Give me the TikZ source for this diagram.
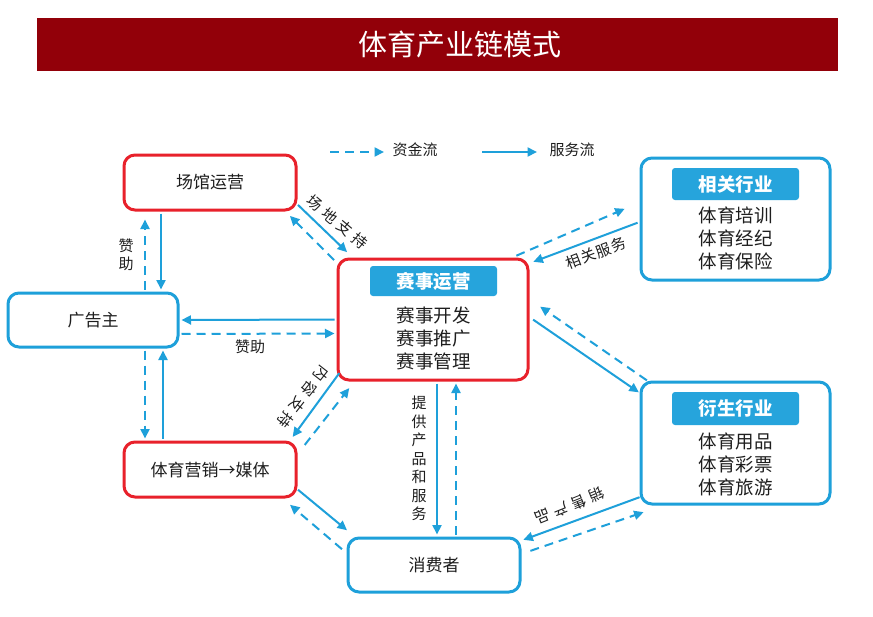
\documentclass[tikz,border=0pt]{standalone}
\usepackage{fontspec}
\setmainfont{Noto Sans CJK SC}
\usetikzlibrary{arrows.meta,calc}
\definecolor{bred}{HTML}{E8212B}
\definecolor{bblue}{HTML}{1EA0DA}
\definecolor{hblue}{HTML}{26A4DC}
\definecolor{tred}{HTML}{920009}
\definecolor{txt}{HTML}{1E1E1E}
\newcommand{\gp}{\hspace{4.5pt}}
\begin{document}
\begin{tikzpicture}[x=1pt,y=-1pt,
  box/.style={line width=3pt,rounded corners=11pt,fill=white,inner sep=0pt,text=txt,font=\fontsize{17}{17}\selectfont},
  redbox/.style={box,draw=bred},
  bluebox/.style={box,draw=bblue},
  header/.style={fill=hblue,rounded corners=3pt,inner sep=0pt,minimum width=127pt,text=white,font=\fontsize{18.5}{18.5}\selectfont\bfseries},
  items/.style={align=center,text=txt,inner sep=0pt,font=\fontsize{18.5}{23}\selectfont},
  flow/.style={draw=bblue,line width=2pt,-{Triangle[length=9.5pt,width=9pt]},shorten >=2pt,shorten <=2pt},
  money/.style={flow,dash pattern=on 9pt off 6pt},
  lbl/.style={text=txt,inner sep=0pt,font=\fontsize{15}{15}\selectfont},
  vlbl/.style={lbl,align=center,font=\fontsize{15}{18.5}\selectfont}
]
\useasboundingbox (0,0) rectangle (873,616);
\fill[white] (0,0) rectangle (873,616);

% title
\fill[tred] (37,18) rectangle (838,71);
\node[text=white,font=\fontsize{29}{29}\selectfont] (title) at (460,44) {体育产业链模式};

% legend
\coordinate (lg1a) at (330,152);
\coordinate (lg1b) at (384,152);
\coordinate (lg2a) at (482,152);
\coordinate (lg2b) at (537,152);
\draw[money,shorten <=0pt,shorten >=0pt] (lg1a) -- (lg1b);
\draw[flow,shorten <=0pt,shorten >=0pt] (lg2a) -- (lg2b);
\node[lbl] (lgt1) at (415,150) {资金流};
\node[lbl] (lgt2) at (572,150) {服务流};

% nodes
\node[redbox,minimum width=172pt,minimum height=55pt] (vn) at (210,182.5) {场馆运营};
\node[bluebox,minimum width=170pt,minimum height=54pt] (ad) at (93,320) {广告主};
\node[redbox,minimum width=172pt,minimum height=55pt] (md) at (210,469.5) {体育营销→媒体};
\node[bluebox,minimum width=172pt,minimum height=54pt] (cs) at (434,565) {消费者};
\node[redbox,minimum width=190pt,minimum height=121pt] (ev) at (433,319.5) {};
\node[bluebox,minimum width=189pt,minimum height=122pt] (rel) at (735.5,219) {};
\node[bluebox,minimum width=189pt,minimum height=122pt] (der) at (735.5,443) {};

\node[header,minimum height=30pt] (evh) at (433.5,281) {赛事运营};
\node[items] (evi) at (433.5,338.5) {赛事开发\\赛事推广\\赛事管理};
\node[header,minimum height=32pt] (relh) at (735.5,184) {相关行业};
\node[items] (reli) at (735.5,238.5) {体育培训\\体育经纪\\体育保险};
\node[header,minimum height=33pt] (derh) at (735.5,408.5) {衍生行业};
\node[items] (deri) at (735.5,464) {体育用品\\体育彩票\\体育旅游};

% vn <-> ad
\draw[flow] ([xshift=-49pt]vn.south) -- ([xshift=68pt]ad.north);
\draw[money] ([xshift=52pt]ad.north) -- ([xshift=-65pt,yshift=-6pt]vn.south);
\node[vlbl] (l1) at (126,255) {赞\\助};

% ev <-> ad
\draw[flow] (ev.west) -- (ad.east);
\draw[money] ([yshift=-14pt]ad.east) -- ([yshift=-14pt]ev.west);
\node[lbl] (l2) at (250,347) {赞助};

% ad <-> md
\draw[money] ([xshift=52pt]ad.south) -- ([xshift=-65pt]md.north);
\draw[flow] ([xshift=-47pt]md.north) -- ([xshift=70pt]ad.south);

% vn <-> ev
\draw[flow] ($(vn.south east)+(-1,-8)$) -- ($(ev.north west)+(12,-4)$);
\draw[money] ($(ev.north west)+(-1,4)$) -- ($(vn.south east)+(-9,3)$);
\node[lbl,rotate=-40] (l3) at (337,222) {场\gp 地\gp 支\gp 持};

% ev <-> md
\draw[flow] ($(ev.south west)+(4,-10)$) -- ($(md.north east)+(-6,-2)$);
\draw[money] ($(md.north east)+(6,6)$) -- ($(ev.south west)+(14,5)$);
\node[lbl,rotate=232] (l4) at (303,397) {内\gp 容\gp 支\gp 持};

% ev <-> rel
\draw[money] ($(ev.north east)+(-15,-1)$) -- ($(rel.west)+(-13,-11)$);
\draw[flow] ($(rel.west)+(0,3)$) -- ($(ev.north east)+(2,5)$);
\node[lbl,rotate=21] (l5) at (596,253) {相\hspace{1pt}关\hspace{1pt}服\hspace{1pt}务};

% ev <-> der
\draw[flow] ($(ev.east)+(2,-1)$) -- ($(der.north west)+(1,13)$);
\draw[money] ($(der.north west)+(9,1)$) -- ($(ev.east)+(9,-14)$);

% der <-> cs
\draw[flow] ($(der.south west)+(2,-9)$) -- ($(cs.north east)+(0,4)$);
\draw[money] ($(cs.north east)+(7,15)$) -- ($(der.south west)+(6,6)$);
\node[lbl,rotate=202] (l6) at (570,506) {销\gp 售\gp 产\gp 品};

% ev <-> cs
\draw[flow] ([xshift=4pt]ev.south) -- ([xshift=3pt]cs.north);
\draw[money] ([xshift=22pt]cs.north) -- ([xshift=23pt]ev.south);
\node[vlbl] (l7) at (419,458.5) {提\\供\\产\\品\\和\\服\\务};

% md <-> cs
\draw[flow] ($(md.south east)+(-1,-10)$) -- ($(cs.north west)+(2,-5)$);
\draw[money] ($(cs.north west)+(-3,14)$) -- ($(md.south east)+(-9,5)$);
\end{tikzpicture}
\end{document}
